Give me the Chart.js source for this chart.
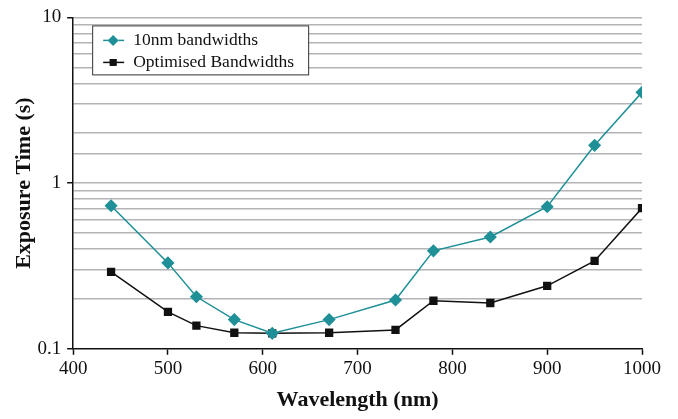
<!DOCTYPE html>
<html>
<head>
<meta charset="utf-8">
<script src="https://cdn.jsdelivr.net/npm/chart.js@4.4.1/dist/chart.umd.min.js"></script>
<style>
  html, body { margin: 0; padding: 0; background: #fff; }
  #wrap { width: 678px; height: 419px; }
</style>
</head>
<body>
<div id="wrap"><canvas id="myChart" width="678" height="419"></canvas></div>
<script>
// wavelengths (nm)
const wavelengths = [440, 500, 530, 570, 610, 670, 740, 780, 840, 900, 950, 1000];
// exposure time (s)
const tenNm     = [0.73, 0.33, 0.206, 0.150, 0.124, 0.150, 0.197, 0.39, 0.473, 0.72, 1.69, 3.53];
const optimised = [0.291, 0.167, 0.138, 0.125, 0.124, 0.125, 0.130, 0.195, 0.189, 0.240, 0.339, 0.707];
const yLabels = [0.1, 1, 10];
const xTicks  = [400, 500, 600, 700, 800, 900, 1000];

const TEAL = "#1f9097";
const FONT = "'Liberation Serif', 'Times New Roman', serif";

function toPoints( ys ){
  return wavelengths.map( (x, i) => ({ x: x, y: ys[i] }) );
}

// legend drawn as a boxed panel inside the plot, like the original
const boxLegend = {
  id: 'boxLegend',
  afterDatasetsDraw( chart ){
    let ctx = chart.ctx;
    let area = chart.chartArea;
    let x0 = area.left + 19, y0 = area.top + 8;
    let w = 216, h = 49;
    ctx.save();
    ctx.fillStyle = "#fff";
    ctx.fillRect( x0, y0, w, h );
    ctx.strokeStyle = "#333";
    ctx.lineWidth = 1;
    ctx.strokeRect( x0 + 0.5, y0 + 0.5, w, h );
    chart.data.datasets.forEach( (ds, i) => {
      let cy = y0 + 15 + i * 22;
      ctx.strokeStyle = ds.borderColor;
      ctx.lineWidth = 1.5;
      ctx.beginPath();
      ctx.moveTo( x0 + 11, cy );
      ctx.lineTo( x0 + 32, cy );
      ctx.stroke();
      Chart.helpers.drawPoint( ctx, {
        pointStyle: ds.pointStyle,
        radius: ds.pointRadius,
        rotation: 0,
        borderWidth: 0
      }, x0 + 21, cy );
      ctx.fillStyle = ds.pointBackgroundColor;
      ctx.fill();
      ctx.fillStyle = "#111";
      ctx.font = "17.5px " + FONT;
      ctx.textBaseline = "middle";
      ctx.fillText( ds.label, x0 + 41, cy );
    });
    ctx.restore();
  }
};

window.addEventListener("load", () => {
  let ctx = document.getElementById("myChart").getContext("2d");
  new Chart( ctx, {
    type: 'line',
    data: {
      datasets: [
        {
          label: '10nm bandwidths',
          data: toPoints( tenNm ),
          borderColor: TEAL,
          backgroundColor: TEAL,
          pointBackgroundColor: TEAL,
          pointBorderColor: TEAL,
          pointStyle: 'rectRot',
          pointRadius: 5.5,
          borderWidth: 1.5,
          tension: 0
        },
        {
          label: 'Optimised Bandwidths',
          data: toPoints( optimised ),
          borderColor: "#111",
          backgroundColor: "#111",
          pointBackgroundColor: "#111",
          pointBorderColor: "#111",
          pointStyle: 'rect',
          pointRadius: 4.8,
          borderWidth: 1.5,
          tension: 0
        }
      ]
    },
    options: {
      responsive: false,
      animation: false,
      layout: { padding: { left: 11, right: 36, top: 14, bottom: 5 } },
      plugins: {
        legend: { display: false },
        tooltip: { enabled: false }
      },
      scales: {
        x: {
          type: 'linear',
          min: 400,
          max: 1000,
          afterBuildTicks: (axis) => { axis.ticks = xTicks.map( v => ({ value: v }) ); },
          grid: {
            drawOnChartArea: false,
            drawTicks: true,
            tickLength: 6,
            tickColor: "#111",
            tickWidth: 1.5
          },
          border: { color: "#111", width: 1.5 },
          ticks: {
            color: "#111",
            padding: 3,
            maxRotation: 0,
            font: { family: FONT, size: 19 },
            callback: (v) => String( v )
          },
          title: {
            display: true,
            text: 'Wavelength (nm)',
            color: "#111",
            padding: { top: 4, bottom: 0 },
            font: { family: FONT, size: 22, weight: 'bold' }
          }
        },
        y: {
          type: 'logarithmic',
          min: 0.1,
          max: 10,
          grid: {
            color: (c) => c.tick && c.tick.value === 0.1 ? 'rgba(0,0,0,0)' : "#b3b3b8",
            lineWidth: 1.5,
            drawTicks: true,
            tickLength: 6,
            tickColor: (c) => c.tick && yLabels.includes( c.tick.value ) ? "#111" : 'rgba(0,0,0,0)',
            tickWidth: 1.5
          },
          border: { color: "#111", width: 1.5 },
          ticks: {
            color: "#111",
            padding: 6,
            autoSkip: false,
            font: { family: FONT, size: 19 },
            callback: (v) => yLabels.includes( v ) ? String( v ) : ''
          },
          title: {
            display: true,
            text: 'Exposure Time (s)',
            color: "#111",
            padding: { top: 0, bottom: -6 },
            font: { family: FONT, size: 22, weight: 'bold' }
          }
        }
      }
    },
    plugins: [ boxLegend ]
  });
});
</script>
</body>
</html>
